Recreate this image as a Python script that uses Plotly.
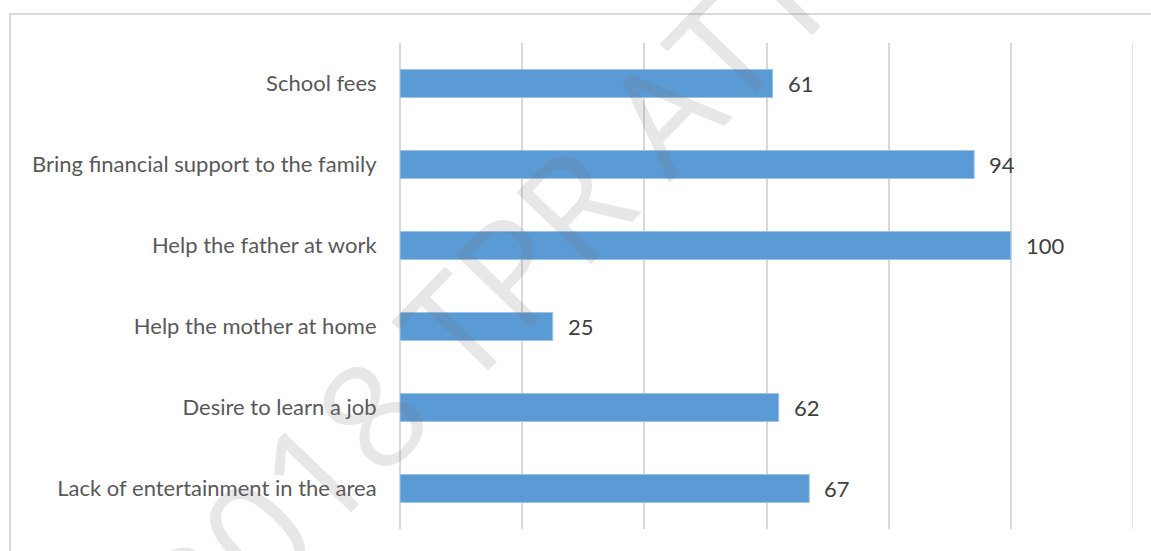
import plotly.graph_objects as go

# Reasons reported for child work (number of responses)
categories = [
    "School fees",
    "Bring financial support to the family",
    "Help the father at work",
    "Help the mother at home",
    "Desire to learn a job",
    "Lack of entertainment in the area",
]
counts = [61, 94, 100, 25, 62, 67]

axis_max = 120
axis_step = 20

W, H = 1151, 551
M_L, M_R, M_T, M_B = 400, 18, 43, 22
plot_w = W - M_L - M_R
plot_h = H - M_T - M_B

bar_color = "#5B9BD5"
grid_color = "#D9D9D9"
label_font = dict(family="Lato, Open Sans, sans-serif", size=22, color="#595959")
value_font = dict(family="Lato, Open Sans, sans-serif", size=22, color="#404040")

fig = go.Figure(
    go.Bar(
        x=counts,
        y=categories,
        orientation="h",
        marker=dict(color=bar_color, line=dict(color="#9DC3E6", width=1)),
        hoverinfo="x+y",
    )
)

# value labels to the right of each bar
for cat, val in zip(categories, counts):
    fig.add_annotation(
        x=val, y=cat, text=str(val), showarrow=False,
        xanchor="left", yanchor="middle", xshift=13,
        font=value_font,
    )

# closing gridline at the end of the value axis
fig.add_shape(
    type="line", xref="x", yref="paper",
    x0=axis_max, x1=axis_max, y0=0, y1=1,
    line=dict(color=grid_color, width=1.5), layer="below",
)

# outer chart frame (runs off the right and bottom edges)
fig.add_shape(
    type="rect", xref="paper", yref="paper",
    x0=(10 - M_L) / plot_w, x1=1.2,
    y0=-0.3, y1=1 + (M_T - 14) / plot_h,
    line=dict(color=grid_color, width=2), layer="below",
)

# diagonal watermark
fig.add_annotation(
    xref="paper", yref="paper",
    x=(485 - M_L) / plot_w, y=1 - (292 - M_T) / plot_h,
    text="2018 TPR ATT", showarrow=False, textangle=-46,
    xanchor="center", yanchor="middle",
    font=dict(family="Open Sans, sans-serif", size=145, weight=400,
              color="rgba(110,110,110,0.17)"),
)

fig.update_layout(
    width=W, height=H,
    margin=dict(l=M_L, r=M_R, t=M_T, b=M_B),
    paper_bgcolor="white", plot_bgcolor="white",
    bargap=0.654,
    showlegend=False,
    xaxis=dict(
        range=[0, axis_max], tick0=0, dtick=axis_step, showticklabels=False,
        showgrid=True, gridcolor=grid_color, gridwidth=1.5,
        zeroline=True, zerolinecolor=grid_color, zerolinewidth=1.5,
        showline=False, fixedrange=True,
    ),
    yaxis=dict(
        categoryorder="array", categoryarray=categories, autorange="reversed",
        ticks="outside", ticklen=18, tickcolor="rgba(0,0,0,0)",
        tickfont=label_font, showgrid=False, zeroline=False, showline=False,
    ),
)

fig.write_html("out.html")
